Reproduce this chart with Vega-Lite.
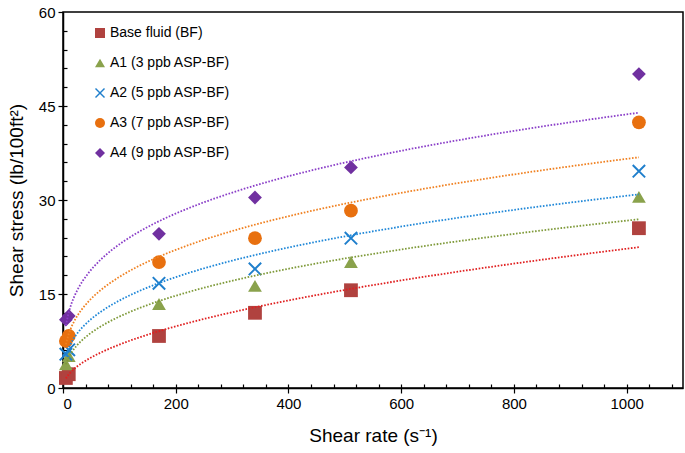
{
  "$schema": "https://vega.github.io/schema/vega-lite/v6.json",
  "width": 620,
  "height": 376,
  "autosize": {"type": "none"},
  "padding": {"left": 63, "top": 12, "right": 2, "bottom": 65},
  "background": "white",
  "config": {
    "view": {"stroke": "#000", "strokeWidth": 1.5},
    "font": "Liberation Sans",
    "axis": {"grid": false, "domainColor": "#000", "domainWidth": 1.5, "tickColor": "#000", "tickWidth": 1.2, "labelColor": "#000", "titleColor": "#000", "labelFont": "Liberation Sans", "titleFont": "Liberation Sans", "labelFontSize": 15, "titleFontSize": 19, "titleFontWeight": "normal"}
  },
  "data": {"values": [
    {"series": "Base fluid (BF)", "rate": 5.11, "stress": 1.6},
    {"series": "Base fluid (BF)", "rate": 10.22, "stress": 2.2},
    {"series": "Base fluid (BF)", "rate": 170.3, "stress": 8.3},
    {"series": "Base fluid (BF)", "rate": 340.6, "stress": 12.0},
    {"series": "Base fluid (BF)", "rate": 510.9, "stress": 15.6},
    {"series": "Base fluid (BF)", "rate": 1021.8, "stress": 25.5},
    {"series": "A1 (3 ppb ASP-BF)", "rate": 5.11, "stress": 3.8},
    {"series": "A1 (3 ppb ASP-BF)", "rate": 10.22, "stress": 5.1},
    {"series": "A1 (3 ppb ASP-BF)", "rate": 170.3, "stress": 13.4},
    {"series": "A1 (3 ppb ASP-BF)", "rate": 340.6, "stress": 16.3},
    {"series": "A1 (3 ppb ASP-BF)", "rate": 510.9, "stress": 20.1},
    {"series": "A1 (3 ppb ASP-BF)", "rate": 1021.8, "stress": 30.5},
    {"series": "A2 (5 ppb ASP-BF)", "rate": 5.11, "stress": 5.4},
    {"series": "A2 (5 ppb ASP-BF)", "rate": 10.22, "stress": 6.1},
    {"series": "A2 (5 ppb ASP-BF)", "rate": 170.3, "stress": 16.7},
    {"series": "A2 (5 ppb ASP-BF)", "rate": 340.6, "stress": 19.0},
    {"series": "A2 (5 ppb ASP-BF)", "rate": 510.9, "stress": 23.9},
    {"series": "A2 (5 ppb ASP-BF)", "rate": 1021.8, "stress": 34.6},
    {"series": "A3 (7 ppb ASP-BF)", "rate": 5.11, "stress": 7.5},
    {"series": "A3 (7 ppb ASP-BF)", "rate": 10.22, "stress": 8.3},
    {"series": "A3 (7 ppb ASP-BF)", "rate": 170.3, "stress": 20.1},
    {"series": "A3 (7 ppb ASP-BF)", "rate": 340.6, "stress": 23.9},
    {"series": "A3 (7 ppb ASP-BF)", "rate": 510.9, "stress": 28.3},
    {"series": "A3 (7 ppb ASP-BF)", "rate": 1021.8, "stress": 42.4},
    {"series": "A4 (9 ppb ASP-BF)", "rate": 5.11, "stress": 10.9},
    {"series": "A4 (9 ppb ASP-BF)", "rate": 10.22, "stress": 11.5},
    {"series": "A4 (9 ppb ASP-BF)", "rate": 170.3, "stress": 24.6},
    {"series": "A4 (9 ppb ASP-BF)", "rate": 340.6, "stress": 30.4},
    {"series": "A4 (9 ppb ASP-BF)", "rate": 510.9, "stress": 35.2},
    {"series": "A4 (9 ppb ASP-BF)", "rate": 1021.8, "stress": 50.1}
  ]},
  "layer": [
    {
      "mark": {"type": "point", "filled": true, "opacity": 1, "size": 190},
      "encoding": {
        "x": {"field": "rate", "type": "quantitative", "scale": {"domain": [0, 1100], "nice": false}, "axis": {"values": [0, 200, 400, 600, 800, 1000], "format": "d", "title": "Shear rate (s⁻¹)", "tickSize": 5, "labelPadding": 3, "titlePadding": 15}},
        "y": {"field": "stress", "type": "quantitative", "scale": {"domain": [0, 60], "nice": false}, "axis": {"values": [0, 15, 30, 45, 60], "title": "Shear stress (lb/100ft²)", "tickSize": 5, "labelPadding": 3, "titlePadding": 12}},
        "color": {"field": "series", "type": "nominal", "sort": null,
          "scale": {"domain": ["Base fluid (BF)", "A1 (3 ppb ASP-BF)", "A2 (5 ppb ASP-BF)", "A3 (7 ppb ASP-BF)", "A4 (9 ppb ASP-BF)"], "range": ["#b0423f", "#8aa24c", "#1f7fcc", "#e8700f", "#7030a0"]},
          "legend": {"title": null, "orient": "none", "legendX": 30, "legendY": 14, "labelFontSize": 14, "labelFont": "Liberation Sans", "labelColor": "#000", "symbolSize": 100, "rowPadding": 16, "symbolOffset": 0, "labelOffset": 3}},
        "shape": {"field": "series", "type": "nominal", "sort": null,
          "scale": {"domain": ["Base fluid (BF)", "A1 (3 ppb ASP-BF)", "A2 (5 ppb ASP-BF)", "A3 (7 ppb ASP-BF)", "A4 (9 ppb ASP-BF)"], "range": ["square", "triangle-up", "M-1,-0.8L-0.2,0L-1,0.8L-0.8,1L0,0.2L0.8,1L1,0.8L0.2,0L1,-0.8L0.8,-1L0,-0.2L-0.8,-1Z", "circle", "diamond"]}}
      }
    },
    {
      "transform": [{"regression": "stress", "on": "rate", "groupby": ["series"], "method": "pow"}],
      "mark": {"type": "line", "strokeDash": [1.6, 1.6], "strokeWidth": 1.8},
      "encoding": {
        "x": {"field": "rate", "type": "quantitative", "axis": {"values": [40, 80, 120, 160, 200, 240, 280, 320, 360, 400, 440, 480, 520, 560, 600, 640, 680, 720, 760, 800, 840, 880, 920, 960, 1000, 1040, 1080], "labels": false, "title": null, "domain": false, "tickSize": -4, "orient": "bottom"}},
        "y": {"field": "stress", "type": "quantitative", "axis": {"values": [3, 6, 9, 12, 15, 18, 21, 24, 27, 30, 33, 36, 39, 42, 45, 48, 51, 54, 57], "labels": false, "title": null, "domain": false, "tickSize": -4, "orient": "left"}},
        "detail": {"field": "series", "type": "nominal"},
        "stroke": {"field": "series", "type": "nominal", "legend": null,
          "scale": {"domain": ["Base fluid (BF)", "A1 (3 ppb ASP-BF)", "A2 (5 ppb ASP-BF)", "A3 (7 ppb ASP-BF)", "A4 (9 ppb ASP-BF)"], "range": ["#e02020", "#7f9a3a", "#2088d8", "#f08020", "#8a3ec8"]}}
      }
    }
  ],
  "resolve": {"axis": {"x": "independent", "y": "independent"}, "scale": {"stroke": "independent"}}
}
